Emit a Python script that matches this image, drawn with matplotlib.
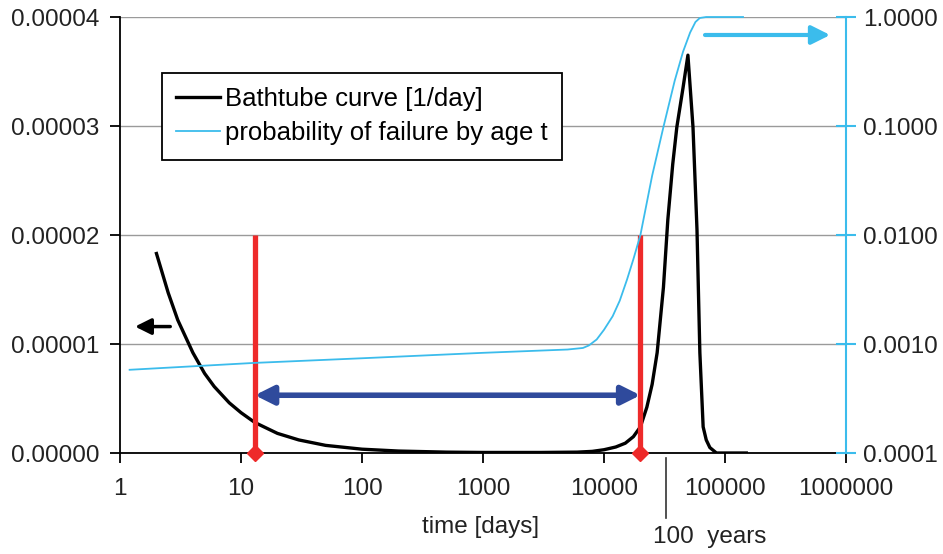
"""
Bathtub curve vs. probability of failure by age (943x554 px).
"""
import matplotlib
matplotlib.use('Agg')
import numpy as np
import matplotlib.pyplot as plt
from matplotlib.ticker import FixedLocator, FormatStrFormatter, FuncFormatter, NullLocator
from matplotlib.transforms import blended_transform_factory

plt.rcParams['font.family'] = ['Liberation Sans', 'DejaVu Sans']

# bathtub curve (failure rate, 1/day)
bath_days = [2, 2.5, 3, 4, 5, 6, 8, 10, 13, 20, 30, 50, 100, 200, 500, 1000,
             3000, 6000, 8000, 10000, 12500, 15000, 17500, 20000, 22600,
             25000, 27500, 31000, 33700, 37000, 40000, 45000, 49400, 54400,
             58700, 62000, 66000, 70000, 75000, 85000, 150000]
bath_rate = [1.83e-5, 1.47e-5, 1.22e-5, 0.92e-5, 0.73e-5, 0.61e-5, 0.46e-5,
             0.37e-5, 0.28e-5, 0.18e-5, 0.12e-5, 0.07e-5, 0.035e-5, 0.018e-5,
             0.008e-5, 0.005e-5, 0.005e-5, 0.008e-5, 0.015e-5, 0.03e-5,
             0.055e-5, 0.09e-5, 0.15e-5, 0.24e-5, 0.42e-5, 0.63e-5, 0.92e-5,
             1.52e-5, 2.14e-5, 2.65e-5, 2.99e-5, 3.35e-5, 3.65e-5, 2.99e-5,
             2.05e-5, 0.92e-5, 0.24e-5, 0.12e-5, 0.05e-5, 0.0, 0.0]

# cumulative probability of failure by age t
prob_days = [1.2, 12.6, 100, 1000, 5000, 6700, 7500, 8700, 10000, 11800,
             13500, 15500, 17500, 20000, 25000, 31000, 38400, 45000, 51500,
             57000, 62000, 70000, 141000]
prob_fail = [5.8e-4, 6.7e-4, 7.4e-4, 8.3e-4, 8.9e-4, 9.2e-4, 9.7e-4, 1.1e-3,
             1.35e-3, 1.8e-3, 2.5e-3, 3.9e-3, 6.0e-3, 1.0e-2, 0.035, 0.098,
             0.26, 0.48, 0.72, 0.9, 0.98, 1.0, 1.0]

# annotation positions
useful_life = [13, 20000]          # red markers (days)
useful_level = 0.53e-5
red_top = 2e-5
hundred_years = 32500

left_ticks = [0, 1e-5, 2e-5, 3e-5, 4e-5]
right_ticks = [1e-4, 1e-3, 1e-2, 1e-1, 1.0]
x_ticks = [1, 10, 100, 1000, 10000, 100000, 1000000]

TXT = '#222222'
SKY = '#3bbcec'
RED = '#ee2a2a'
NAVY = '#2f4a9c'
FS = 17.5

fig = plt.figure(figsize=(9.43, 5.54), dpi=100, facecolor='white')
ax = fig.add_axes([0.1273, 0.1823, 0.7698, 0.787])
ax2 = ax.twinx()

ax.set_xscale('log')
ax.set_xlim(1, 1e6)
ax.set_ylim(0, 4e-5)
ax2.set_yscale('log')
ax2.set_ylim(1e-4, 1)

ax.plot(bath_days, bath_rate, color='black', lw=2.4, zorder=4,
        label='Bathtube curve [1/day]')
ln2, = ax2.plot(prob_days, prob_fail, color=SKY, lw=1.3, clip_on=False,
                zorder=3, label='probability of failure by age t')

# grid and spines
ax.yaxis.set_major_locator(FixedLocator(left_ticks))
ax.yaxis.set_major_formatter(FormatStrFormatter('%.5f'))
ax.yaxis.grid(True, color='#9a9a9a', lw=1.0)
ax.set_axisbelow(True)
for s in ['top', 'right']:
    ax.spines[s].set_visible(False)
ax.spines['left'].set_linewidth(1.3)
ax.spines['bottom'].set_linewidth(1.3)
ax2.spines['top'].set_visible(False)
ax2.spines['left'].set_visible(False)
ax2.spines['bottom'].set_visible(False)
ax2.spines['right'].set_color(SKY)
ax2.spines['right'].set_linewidth(1.5)

ax.xaxis.set_major_locator(FixedLocator(x_ticks))
ax.xaxis.set_minor_locator(NullLocator())
ax.xaxis.set_major_formatter(FuncFormatter(lambda v, p: f'{int(round(v))}'))
ax.tick_params(axis='x', length=7, width=1.3, pad=11, labelsize=FS,
               labelcolor=TXT)
ax.tick_params(axis='y', length=7, width=1.3, pad=8, labelsize=FS,
               labelcolor=TXT)

ax2.yaxis.set_major_locator(FixedLocator(right_ticks))
ax2.yaxis.set_minor_locator(NullLocator())
ax2.yaxis.set_major_formatter(FormatStrFormatter('%.4f'))
ax2.tick_params(axis='y', direction='inout', length=14, width=1.5,
                color=SKY, pad=5, labelsize=FS, labelcolor=TXT)

# red markers of useful life
for d in useful_life:
    ax.plot([d, d], [0, red_top], color=RED, lw=3.8, zorder=5,
            solid_capstyle='butt')
    ax.plot([d], [0], marker='D', color=RED, ms=8, zorder=6, clip_on=False)

ax.annotate('', xy=(useful_life[1], useful_level),
            xytext=(useful_life[0], useful_level),
            arrowprops=dict(arrowstyle='<|-|>', color=NAVY, lw=4,
                            mutation_scale=28, shrinkA=0, shrinkB=0),
            zorder=6)

# axis pointers
ax.annotate('', xy=(1.33, 1.16e-5), xytext=(2.6, 1.16e-5),
            arrowprops=dict(arrowstyle='-|>', color='black', lw=2.5,
                            mutation_scale=24, shrinkA=0, shrinkB=0))
ax.annotate('', xy=(740000, 3.835e-5), xytext=(68400, 3.835e-5),
            arrowprops=dict(arrowstyle='-|>', color=SKY, lw=3,
                            mutation_scale=28, shrinkA=0, shrinkB=0))

# 100 years marker under the axis
tr = blended_transform_factory(ax.transData, ax.transAxes)
ax.plot([hundred_years, hundred_years], [-0.012, -0.149], color='#333333',
        lw=1.2, transform=tr, clip_on=False)
fig.text(710 / 943, 1 - 537 / 554, '100  years', fontsize=FS, color=TXT,
         ha='center', va='center')
fig.text(481 / 943, 1 - 527 / 554, 'time [days]', fontsize=FS, color=TXT,
         ha='center', va='center')

h1, l1 = ax.get_legend_handles_labels()
leg = ax2.legend(h1 + [ln2], l1 + [ln2.get_label()],
                 loc='upper left', bbox_to_anchor=(162 / 943, 1 - 73 / 554),
                 bbox_transform=fig.transFigure, fontsize=18.5,
                 frameon=True, fancybox=False, edgecolor='black',
                 framealpha=1, handlelength=1.7, handletextpad=0.2,
                 borderpad=0.55, labelspacing=0.4, borderaxespad=0)
leg.get_frame().set_linewidth(1.3)
leg.set_zorder(10)

fig.savefig('out.png', dpi=100)
